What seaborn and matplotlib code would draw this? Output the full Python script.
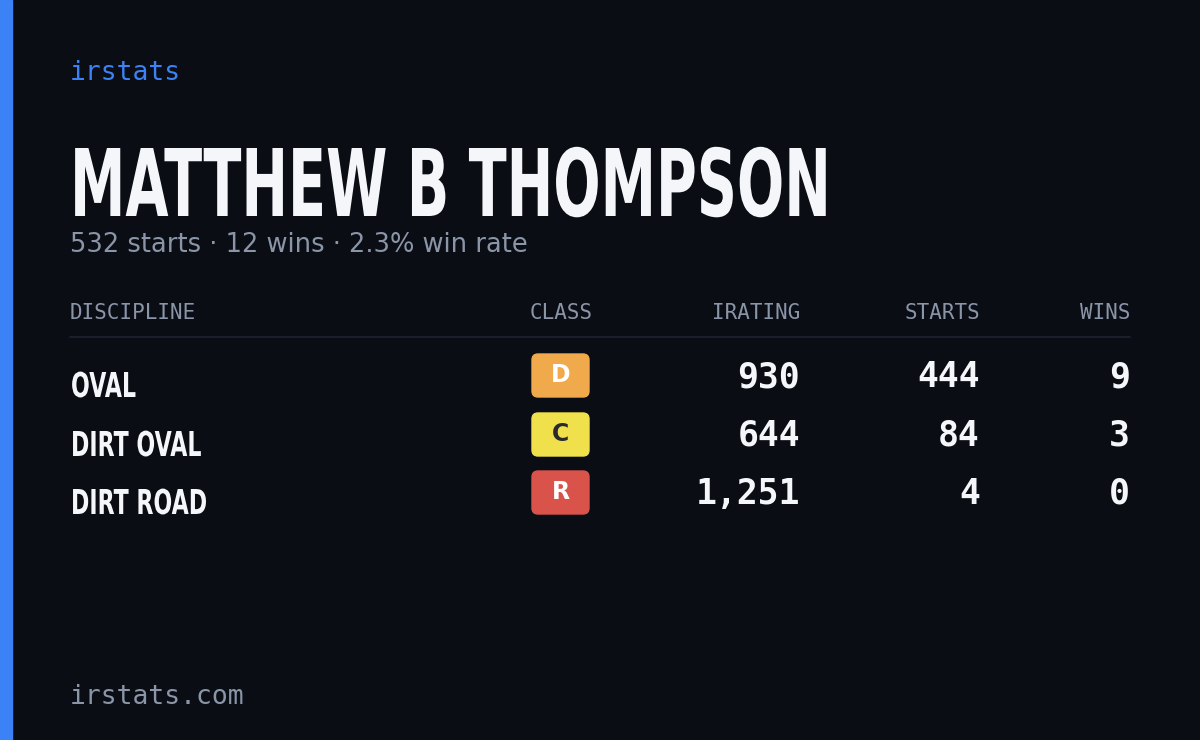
import matplotlib.pyplot as plt
import seaborn as sns
from matplotlib.font_manager import FontProperties
from matplotlib.patches import FancyBboxPatch, PathPatch, Rectangle
from matplotlib.textpath import TextPath
from matplotlib.transforms import Affine2D

# card data
driver = "MATTHEW B THOMPSON"
total_starts = 532
total_wins = 12
win_rate = 2.3
disciplines = ["OVAL", "DIRT OVAL", "DIRT ROAD"]
classes = ["D", "C", "R"]
iratings = [930, 644, 1251]
starts = [444, 84, 4]
wins = [9, 3, 0]
headers = ["DISCIPLINE", "CLASS", "IRATING", "STARTS", "WINS"]

class_colors = {"D": "#f0a94b", "C": "#f0e14c", "R": "#d9534b"}
class_text = {"D": "white", "C": "#2a2a2a", "R": "white"}

BG = "#0a0d14"
GRAY = "#8b95a8"
WHITE = "#f5f6fa"
MONO = ["DejaVu Sans Mono"]
BOLD = FontProperties(family="DejaVu Sans", weight="bold")


def condensed(ax, x, baseline, s, cap_px, squeeze):
    """Draw bold text squeezed horizontally, since no condensed font is installed."""
    path = TextPath((0, 0), s, size=1, prop=BOLD)
    cap = TextPath((0, 0), "H", size=1, prop=BOLD).get_extents().height
    k = cap_px / cap
    tr = Affine2D().scale(k * squeeze, -k).translate(x, baseline)
    ax.add_patch(PathPatch(tr.transform_path(path), color=WHITE, lw=0))


sns.set_style("dark")
fig = plt.figure(figsize=(12, 7.4), dpi=100, facecolor=BG)
ax = fig.add_axes([0, 0, 1, 1])
ax.set_facecolor(BG)
ax.set_xlim(0, 1200)
ax.set_ylim(740, 0)
ax.axis("off")

ax.add_patch(Rectangle((0, 0), 12, 740, color="#3b82f6"))

ax.text(70, 73, "irstats", color="#3b82f6", fontsize=19, family=MONO, va="center")
condensed(ax, 70, 216, driver, 68, 0.597)
ax.text(70, 245, f"{total_starts} starts · {total_wins} wins · {win_rate}% win rate",
        color=GRAY, fontsize=18.5, va="center")

hx = [70, 593, 800, 980, 1130]
for i, h in enumerate(headers):
    ax.text(hx[i], 313, h, color=GRAY, fontsize=15, family=MONO, va="center",
            ha="left" if i == 0 else "right")
ax.plot([70, 1130], [337, 337], color="#1e2330", lw=1.2)

row_y = [377, 436, 494]
for y, d, c, ir, s, w in zip(row_y, disciplines, classes, iratings, starts, wins):
    condensed(ax, 71, y + 20, d, 25, 0.645)
    ax.add_patch(FancyBboxPatch((532, y - 23), 57, 43,
                                boxstyle="round,pad=0,rounding_size=6",
                                color=class_colors[c]))
    ax.text(560.5, y - 2, c, color=class_text[c], fontsize=17, fontweight="bold",
            ha="center", va="center")
    for x, v in zip([800, 980, 1130], [ir, s, w]):
        ax.text(x, y, f"{v:,}", color=WHITE, fontsize=25, family=MONO,
                fontweight="bold", ha="right", va="center")

ax.text(70, 697, "irstats.com", color=GRAY, fontsize=19, family=MONO, va="center")

fig.savefig("out.png", dpi=100, facecolor=BG)
